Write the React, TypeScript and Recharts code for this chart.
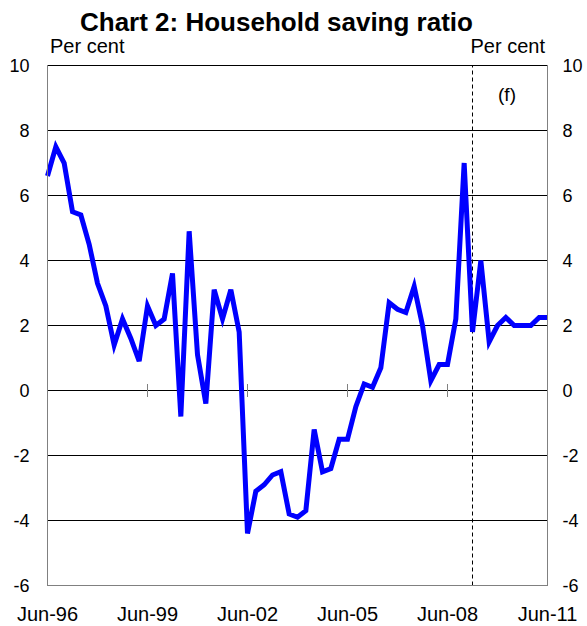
import { LineChart, Line, XAxis, YAxis, CartesianGrid, ReferenceLine } from "recharts";

const MONTHS = ["Mar", "Jun", "Sep", "Dec"];

// quarterly labels, Jun-96 .. Jun-11
const QUARTERS: string[] = Array.from({ length: 61 }, (_, i) => {
  const n = i + 1;
  const yr = (1996 + Math.floor(n / 4)) % 100;
  return `${MONTHS[n % 4]}-${String(yr).padStart(2, "0")}`;
});

// household saving ratio, per cent
const SAVING = [
  6.6, 7.5, 7.0, 5.5, 5.4, 4.5, 3.3, 2.6, 1.4, 2.2,
  1.6, 0.9, 2.6, 2.0, 2.2, 3.6, -0.8, 4.9, 1.1, -0.4,
  3.1, 2.2, 3.1, 1.8, -4.4, -3.1, -2.9, -2.6, -2.5, -3.8,
  -3.9, -3.7, -1.2, -2.5, -2.4, -1.5, -1.5, -0.5, 0.2, 0.1,
  0.7, 2.7, 2.5, 2.4, 3.2, 2.0, 0.3, 0.8, 0.8, 2.2,
  7.0, 1.8, 4.0, 1.5, 2.0, 2.25, 2.0, 2.0, 2.0, 2.25,
  2.25,
];

const X_TICKS = ["Jun-96", "Jun-99", "Jun-02", "Jun-05", "Jun-08", "Jun-11"];
const Y_TICKS = [-6, -4, -2, 0, 2, 4, 6, 8, 10];
const FORECAST_FROM = "Mar-09";

const data = QUARTERS.map((q, i) => ({ idx: i, quarter: q, saving: SAVING[i] }));
const xTickIdx = X_TICKS.map((t) => QUARTERS.indexOf(t));

const FONT = "'Liberation Sans', Arial, sans-serif";
const AXIS_GREY = "#808080";

export default function App() {
  return (
    <div style={{ position: "absolute", left: 0, top: 0, width: 587, height: 626, background: "#fff", fontFamily: FONT }}>
      <LineChart
        width={587}
        height={626}
        data={data}
        margin={{ top: 65.5, right: 0, bottom: 0, left: 0 }}
      >
        <CartesianGrid yAxisId="left" vertical={false} stroke="#000" strokeOpacity={1} />
        <XAxis
          dataKey="idx"
          type="number"
          domain={[0, 60]}
          ticks={xTickIdx}
          tickFormatter={(v) => QUARTERS[v]}
          height={40.5}
          tickLine={false}
          tickMargin={15}
          stroke={AXIS_GREY}
          tick={{ fill: "#000", fontSize: 20, fontFamily: FONT }}
        />
        <YAxis
          yAxisId="left"
          domain={[-6, 10]}
          ticks={Y_TICKS}
          width={47.5}
          tickLine={false}
          tickMargin={12}
          stroke={AXIS_GREY}
          tick={{ fill: "#000", fontSize: 18, fontFamily: FONT }}
        />
        <YAxis
          yAxisId="right"
          orientation="right"
          domain={[-6, 10]}
          ticks={Y_TICKS}
          width={39.5}
          tickLine={false}
          tickMargin={9}
          stroke={AXIS_GREY}
          tick={{ fill: "#000", fontSize: 18, fontFamily: FONT }}
        />
        {xTickIdx.map((x) => (
          <ReferenceLine
            key={x}
            yAxisId="left"
            segment={[{ x, y: -0.2 }, { x, y: 0.2 }]}
            stroke={AXIS_GREY}
          />
        ))}
        <ReferenceLine
          yAxisId="left"
          x={QUARTERS.indexOf(FORECAST_FROM)}
          stroke="#000"
          strokeDasharray="4 3"
        />
        {/* invisible copy so the right-hand axis gets its ticks */}
        <Line
          yAxisId="right"
          dataKey="saving"
          stroke="none"
          dot={false}
          activeDot={false}
          isAnimationActive={false}
        />
        <Line
          yAxisId="left"
          dataKey="saving"
          stroke="#0000ff"
          strokeWidth={5}
          dot={false}
          isAnimationActive={false}
        />
      </LineChart>
      <svg width={587} height={626} style={{ position: "absolute", left: 0, top: 0, pointerEvents: "none" }}>
        <text x={80} y={31} fontSize={26} fontWeight="bold" fontFamily={FONT} fill="#000">
          Chart 2: Household saving ratio
        </text>
        <text x={50} y={53} fontSize={20} fontFamily={FONT} fill="#000">
          Per cent
        </text>
        <text x={545} y={53} fontSize={20} fontFamily={FONT} fill="#000" textAnchor="end">
          Per cent
        </text>
        <text x={507} y={101} fontSize={19} fontFamily={FONT} fill="#000" textAnchor="middle">
          (f)
        </text>
      </svg>
    </div>
  );
}
